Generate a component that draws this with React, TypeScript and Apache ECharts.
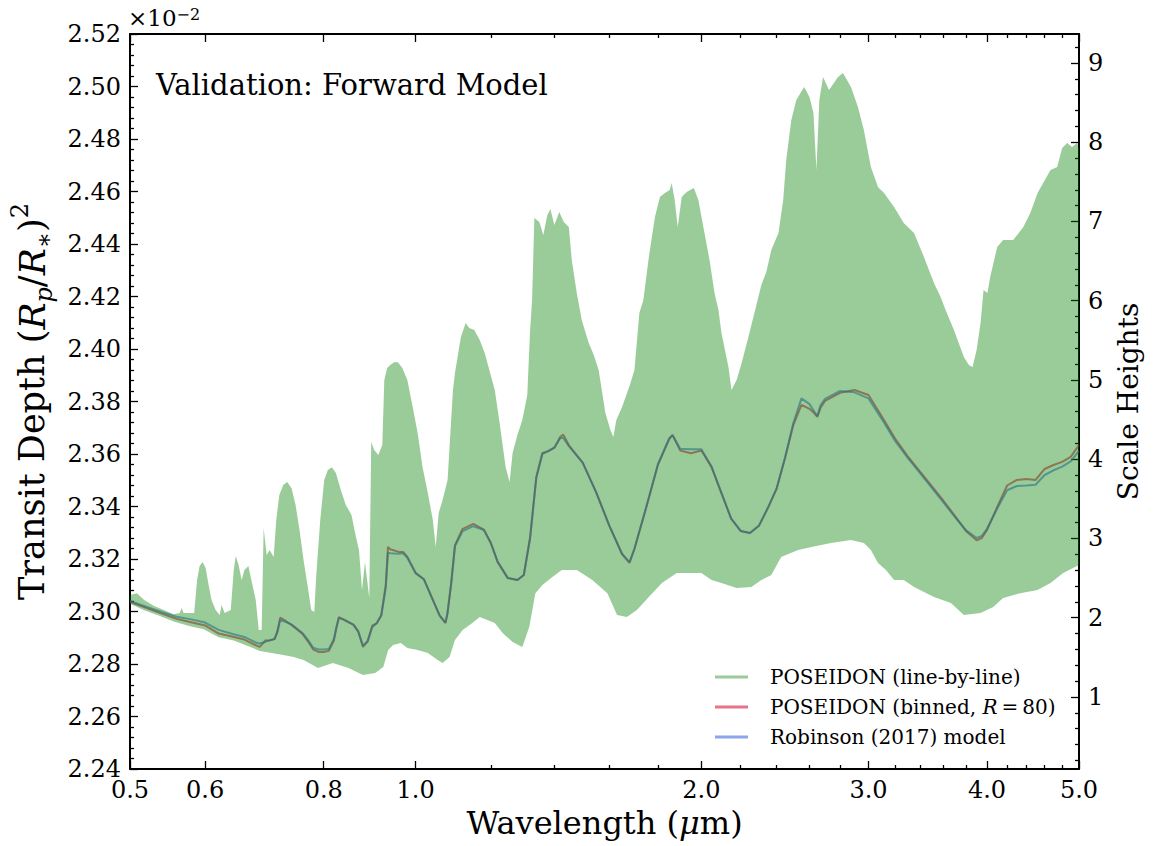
import React, { useEffect, useRef } from "react";
import * as echarts from "echarts";

// ---------- data ----------
const WL_BIN = [
  0.5, 0.52, 0.54, 0.56, 0.58, 0.6, 0.62, 0.64, 0.66, 0.68, 0.685, 0.695, 0.7, 0.71, 0.715, 0.72, 0.73, 0.74,
  0.76, 0.77, 0.78, 0.79, 0.8, 0.81, 0.82, 0.825, 0.83, 0.84, 0.86, 0.87, 0.88, 0.89, 0.9, 0.91, 0.92, 0.93,
  0.935, 0.94, 0.96, 0.97, 0.98, 1.0, 1.02, 1.04, 1.06, 1.075, 1.08, 1.09, 1.1, 1.12, 1.15, 1.18, 1.2, 1.22,
  1.25, 1.28, 1.3, 1.32, 1.34, 1.36, 1.38, 1.4, 1.42, 1.43, 1.45, 1.5, 1.55, 1.6, 1.65, 1.68, 1.7, 1.75, 1.8,
  1.85, 1.865, 1.9, 1.95, 2.0, 2.05, 2.1, 2.15, 2.2, 2.25, 2.3, 2.35, 2.4, 2.45, 2.5, 2.55, 2.6, 2.63, 2.65,
  2.67, 2.7, 2.8, 2.9, 3.0, 3.1, 3.2, 3.3, 3.4, 3.5, 3.6, 3.7, 3.8, 3.9, 3.95, 4.0, 4.1, 4.2, 4.3, 4.4, 4.5,
  4.6, 4.7, 4.8, 4.9, 5.0,
];
const RED_DEPTH = [
  2.3036, 2.3014, 2.2992, 2.2972, 2.2959, 2.2947, 2.2916, 2.2905, 2.2893, 2.287, 2.2865, 2.2891, 2.2888, 2.2895,
  2.2926, 2.2977, 2.2963, 2.2949, 2.2914, 2.2886, 2.2855, 2.2846, 2.2846, 2.285, 2.2889, 2.2937, 2.2979, 2.2968,
  2.2949, 2.2922, 2.2865, 2.2888, 2.2946, 2.2956, 2.2987, 2.3101, 2.3246, 2.3237, 2.3227, 2.3227, 2.3208, 2.3147,
  2.3123, 2.3053, 2.2984, 2.2956, 2.299, 2.3109, 2.3253, 2.3314, 2.3334, 2.3312, 2.3262, 2.3189, 2.3128, 2.312,
  2.3139, 2.328, 2.3512, 2.3604, 2.3611, 2.3623, 2.3665, 2.3674, 2.3634, 2.3566, 2.3453, 2.3326, 2.3219, 2.3185,
  2.3238, 2.3398, 2.356, 2.3657, 2.3672, 2.3613, 2.3603, 2.3613, 2.355, 2.3451, 2.3354, 2.3307, 2.3299, 2.3327,
  2.3394, 2.3467, 2.3585, 2.371, 2.3787, 2.3772, 2.3756, 2.3741, 2.3775, 2.3802, 2.3833, 2.3844, 2.3825, 2.3742,
  2.3659, 2.3591, 2.3533, 2.3477, 2.3421, 2.3364, 2.3307, 2.3271, 2.328, 2.3311, 2.3398, 2.348, 2.3501, 2.3505,
  2.3501, 2.3543, 2.3558, 2.357, 2.3589, 2.3634,
];
const BLUE_DEPTH = [
  2.304, 2.3018, 2.2998, 2.298, 2.297, 2.2958, 2.293, 2.2915, 2.2903, 2.288, 2.2878, 2.2885, 2.289, 2.2895,
  2.292, 2.2968, 2.296, 2.295, 2.2918, 2.2892, 2.2862, 2.2855, 2.2855, 2.2857, 2.2895, 2.294, 2.2975, 2.297,
  2.295, 2.2925, 2.287, 2.2885, 2.294, 2.2955, 2.2985, 2.309, 2.3225, 2.3222, 2.322, 2.3222, 2.3205, 2.3145,
  2.3123, 2.3053, 2.2984, 2.2958, 2.2992, 2.3105, 2.3248, 2.3305, 2.3325, 2.331, 2.326, 2.3189, 2.3128, 2.312,
  2.3139, 2.3282, 2.351, 2.36, 2.3612, 2.3625, 2.366, 2.3662, 2.363, 2.3566, 2.3453, 2.3326, 2.3219, 2.3188,
  2.3238, 2.3398, 2.356, 2.366, 2.3672, 2.362, 2.3618, 2.3618, 2.3552, 2.3451, 2.3354, 2.3307, 2.3299, 2.3327,
  2.3394, 2.3467, 2.3585, 2.3718, 2.3812, 2.379, 2.3762, 2.3745, 2.3785, 2.381, 2.384, 2.3835, 2.3812, 2.3732,
  2.365, 2.3585, 2.3527, 2.347, 2.3415, 2.336, 2.331, 2.328, 2.3288, 2.3315, 2.3392, 2.3462, 2.3478, 2.348,
  2.3483, 2.352, 2.3538, 2.3552, 2.3572, 2.3612,
];

// line-by-line envelope (upper and lower edges of the dense spectrum)
const LBL_UPPER_WL = [
  0.5, 0.5085, 0.5175, 0.5301, 0.5426, 0.5559, 0.5641, 0.5668, 0.5695, 0.5842, 0.5884, 0.592, 0.5964, 0.6007,
  0.6051, 0.6094, 0.6155, 0.6215, 0.6245, 0.629, 0.6385, 0.6431, 0.6462, 0.6508, 0.6555, 0.66, 0.6664, 0.6712,
  0.6784, 0.6833, 0.6882, 0.6915, 0.6966, 0.7017, 0.7085, 0.713, 0.7183, 0.7252, 0.7322, 0.74, 0.7472, 0.7545,
  0.7618, 0.7691, 0.7762, 0.7819, 0.7857, 0.7933, 0.801, 0.8081, 0.816, 0.824, 0.8339, 0.8441, 0.8558, 0.8642,
  0.8715, 0.8779, 0.8843, 0.8935, 0.8978, 0.9043, 0.9133, 0.9222, 0.9267, 0.9332, 0.94, 0.9491, 0.9577, 0.9682,
  0.98, 0.9928, 1.0048, 1.0169, 1.0299, 1.0425, 1.0498, 1.0574, 1.0675, 1.0805, 1.0947, 1.1, 1.1159, 1.129,
  1.1389, 1.1528, 1.1681, 1.1823, 1.2116, 1.2259, 1.244, 1.256, 1.2651, 1.28, 1.2953, 1.311, 1.32, 1.3264,
  1.3337, 1.35, 1.363, 1.3763, 1.3865, 1.4, 1.4169, 1.4325, 1.45, 1.4605, 1.4783, 1.4964, 1.5217, 1.5406,
  1.5589, 1.5845, 1.6039, 1.6155, 1.6272, 1.65, 1.6815, 1.7002, 1.7207, 1.7375, 1.7606, 1.787, 1.8087, 1.8306,
  1.8522, 1.8611, 1.8747, 1.8885, 1.9069, 1.9298, 1.9641, 1.9855, 2.0097, 2.0401, 2.0649, 2.0848, 2.1, 2.136,
  2.1515, 2.1787, 2.2053, 2.2419, 2.2747, 2.3133, 2.3415, 2.3699, 2.4116, 2.4394, 2.4573, 2.4879, 2.5181,
  2.5666, 2.6, 2.6252, 2.644, 2.6628, 2.687, 2.7261, 2.7865, 2.82, 2.8754, 2.9243, 2.9667, 3.0174, 3.07,
  3.1155, 3.1923, 3.2681, 3.3507, 3.4329, 3.5169, 3.5739, 3.6174, 3.6911, 3.7817, 3.8275, 3.8623, 3.9, 3.9377,
  3.9663, 4.0039, 4.0307, 4.1, 4.1594, 4.2627, 4.3682, 4.4425, 4.5218, 4.5834, 4.6661, 4.742, 4.8, 4.8582,
  4.9167, 4.9758, 5.0,
];
const LBL_UPPER = [
  2.3063, 2.307, 2.3044, 2.3021, 2.3006, 2.299, 2.2994, 2.3013, 2.2994, 2.2994, 2.312, 2.3173, 2.3189, 2.3166,
  2.3101, 2.3044, 2.3006, 2.2987, 2.3025, 2.2994, 2.3006, 2.3158, 2.3211, 2.3177, 2.312, 2.3158, 2.3173, 2.312,
  2.3044, 2.293, 2.293, 2.3318, 2.3215, 2.3234, 2.3208, 2.3349, 2.3444, 2.3482, 2.3493, 2.347, 2.3406, 2.331,
  2.3196, 2.3101, 2.3006, 2.2998, 2.3139, 2.3349, 2.3501, 2.3539, 2.355, 2.3528, 2.3463, 2.3406, 2.3368, 2.3291,
  2.3234, 2.3082, 2.3189, 2.3051, 2.3646, 2.3615, 2.3596, 2.3634, 2.3882, 2.3928, 2.3939, 2.395, 2.395, 2.3928,
  2.3882, 2.3779, 2.368, 2.355, 2.3451, 2.3349, 2.3246, 2.3375, 2.3425, 2.3501, 2.3844, 2.3909, 2.4046, 2.4099,
  2.408, 2.4072, 2.4034, 2.3985, 2.3844, 2.3718, 2.355, 2.3493, 2.3604, 2.3672, 2.373, 2.3825, 2.4072, 2.4187,
  2.4499, 2.4484, 2.4434, 2.451, 2.4533, 2.4472, 2.4522, 2.4484, 2.4465, 2.4339, 2.4213, 2.411, 2.4023, 2.3977,
  2.392, 2.3756, 2.3691, 2.3665, 2.373, 2.3779, 2.3863, 2.392, 2.4137, 2.4187, 2.435, 2.4503, 2.4579, 2.4594,
  2.4606, 2.4632, 2.4568, 2.4465, 2.4579, 2.4598, 2.4613, 2.4568, 2.4465, 2.4339, 2.4213, 2.4149, 2.4061, 2.3931,
  2.3844, 2.3882, 2.3947, 2.4046, 2.4137, 2.4244, 2.4293, 2.4377, 2.4442, 2.4568, 2.472, 2.4872, 2.4949,
  2.4998, 2.496, 2.4899, 2.4682, 2.4949, 2.5036, 2.4987, 2.5036, 2.5051, 2.4998, 2.4922, 2.4834, 2.4693, 2.4617,
  2.4594, 2.4541, 2.448, 2.4442, 2.435, 2.4251, 2.4198, 2.4149, 2.4072, 2.397, 2.3939, 2.3931, 2.3996, 2.4099,
  2.4225, 2.4213, 2.4274, 2.4389, 2.4415, 2.4415, 2.4465, 2.4518, 2.4594, 2.4632, 2.4682, 2.4693, 2.4766, 2.4785,
  2.477, 2.4785, 2.4766,
];
const LBL_LOWER_WL = [
  0.5, 0.5175, 0.5361, 0.5559, 0.5772, 0.5978, 0.62, 0.6431, 0.6664, 0.6849, 0.7051, 0.7252, 0.7436, 0.7618,
  0.789, 0.818, 0.8496, 0.88, 0.9065, 0.9244, 0.9355, 0.9468, 0.9646, 0.98, 1.0048, 1.0299, 1.0549, 1.0675,
  1.0857, 1.1, 1.1208, 1.1472, 1.1681, 1.2116, 1.2349, 1.2651, 1.2953, 1.3173, 1.337, 1.36, 1.3933, 1.4255,
  1.4783, 1.535, 1.5923, 1.63, 1.6692, 1.7103, 1.7606, 1.8175, 1.8839, 1.9547, 2.0, 2.05, 2.1, 2.1787, 2.2577,
  2.3133, 2.3699, 2.4275, 2.5296, 2.6126, 2.7392, 2.8754, 2.9667, 3.0174, 3.07, 3.13, 3.1923, 3.2681, 3.3507,
  3.5169, 3.6641, 3.7817, 3.9377, 4.0602, 4.1594, 4.3353, 4.5218, 4.6661, 4.8116, 5.0,
];
const LBL_LOWER = [
  2.303, 2.3005, 2.2985, 2.2962, 2.2945, 2.2932, 2.2902, 2.289, 2.2868, 2.285, 2.2842, 2.2834, 2.2827, 2.2815,
  2.2785, 2.2804, 2.2785, 2.2758, 2.2766, 2.2789, 2.2853, 2.2872, 2.288, 2.2861, 2.2853, 2.2842, 2.2815, 2.2804,
  2.2827, 2.2891, 2.293, 2.2956, 2.2979, 2.2956, 2.2918, 2.2884, 2.2865, 2.2941, 2.307, 2.3101, 2.3131, 2.3158,
  2.3158, 2.312, 2.307, 2.2987, 2.2979, 2.3006, 2.3055, 2.3109, 2.3147, 2.3147, 2.3147, 2.312, 2.3109, 2.309, 2.3093,
  2.312, 2.3139, 2.3208, 2.3234, 2.3246, 2.3261, 2.3272, 2.3261, 2.3234, 2.3185, 2.3158, 2.312, 2.312, 2.3093,
  2.3055, 2.3032, 2.2987, 2.2994, 2.3017, 2.3051, 2.307, 2.3082, 2.3109, 2.3147, 2.3177,
];

// axes
const X_MIN = 0.5;
const X_MAX = 5.0;
const X_MAJOR_TICKS = [0.5, 0.6, 0.8, 1.0, 2.0, 3.0, 4.0, 5.0];
const X_MINOR_TICKS = [1.2, 1.4, 1.6, 1.8, 2.2, 2.4, 2.6, 2.8, 3.2, 3.4, 3.6, 3.8, 4.2, 4.4, 4.6, 4.8];
const DEPTH_MIN = 2.24;
const DEPTH_MAX = 2.52;
const DEPTH_STEP = 0.02;
const SH_MIN = 0.091;
const SH_MAX = 9.366;
const SH_MAJOR_TICKS = [1, 2, 3, 4, 5, 6, 7, 8, 9];
const SH_MINOR_TICKS = [
  0.2, 0.4, 0.6, 0.8, 1.2, 1.4, 1.6, 1.8, 2.2, 2.4, 2.6, 2.8, 3.2, 3.4, 3.6, 3.8, 4.2, 4.4, 4.6, 4.8,
  5.2, 5.4, 5.6, 5.8, 6.2, 6.4, 6.6, 6.8, 7.2, 7.4, 7.6, 7.8, 8.2, 8.4, 8.6, 8.8, 9.2,
];

const NAME_LBL = "POSEIDON (line-by-line)";
const NAME_BIN = "POSEIDON (binned, R=80)";
const NAME_ROB = "Robinson (2017) model";

const FONT = "DejaVu Serif";
const GREEN = "rgba(0,128,0,0.4)";
const RED = "rgba(220,20,60,0.6)";
const BLUE = "rgba(65,105,225,0.6)";

const lg = (v: number) => Math.log10(v);

export default function App() {
  const ref = useRef<HTMLDivElement>(null);

  useEffect(() => {
    if (!ref.current) return;
    const chart = echarts.init(ref.current, undefined, { renderer: "svg" });

    const xMin = lg(X_MIN) - 1e-9;
    const xMax = lg(X_MAX) + 1e-9;
    const axisLine = { show: true, onZero: false, lineStyle: { color: "#000", width: 2 } };
    const tickStyle = { color: "#000", width: 1.3 };

    const xBase = (pos: string, major: boolean, withLine: boolean, withLabel: boolean, idxName?: boolean) => ({
      type: "value",
      position: pos,
      min: xMin,
      max: xMax,
      gridIndex: 0,
      axisLine: withLine ? axisLine : { show: false, onZero: false },
      splitLine: { show: false },
      axisTick: {
        show: true,
        inside: true,
        length: major ? 8 : 4,
        lineStyle: tickStyle,
        customValues: (major ? X_MAJOR_TICKS : X_MINOR_TICKS).map(lg),
      },
      axisLabel: withLabel
        ? {
            show: true,
            customValues: X_MAJOR_TICKS.map(lg),
            formatter: (v: number) => Math.pow(10, v).toFixed(1),
            fontFamily: FONT,
            fontSize: 24,
            color: "#000",
            margin: 9,
          }
        : { show: false },
      ...(idxName
        ? {
            name: "Wavelength ({it|μ}m)",
            nameLocation: "middle",
            nameGap: 36,
            nameTextStyle: {
              fontFamily: FONT,
              fontSize: 32,
              color: "#000",
              rich: { it: { fontFamily: FONT, fontStyle: "italic", fontSize: 32, color: "#000" } },
            },
          }
        : {}),
    });

    const option: any = {
      animation: false,
      grid: { left: 126, right: 74, top: 34, bottom: 77, containLabel: false },
      xAxis: [
        xBase("bottom", true, true, true, true),
        xBase("bottom", false, false, false),
        xBase("top", true, true, false),
        xBase("top", false, false, false),
      ],
      yAxis: [
        {
          type: "value",
          position: "left",
          min: DEPTH_MIN,
          max: DEPTH_MAX,
          interval: DEPTH_STEP,
          axisLine,
          splitLine: { show: false },
          axisTick: { show: true, inside: true, length: 8, lineStyle: tickStyle },
          minorTick: { show: true, splitNumber: 5, length: 4, lineStyle: tickStyle },
          axisLabel: {
            formatter: (v: number) => v.toFixed(2),
            fontFamily: FONT,
            fontSize: 24,
            color: "#000",
            margin: 9,
          },
          name: "Transit Depth ({it|R}{sub|p}/{it|R}{sub|∗}){sup|2}",
          nameLocation: "middle",
          nameRotate: 90,
          nameGap: 74,
          nameTextStyle: {
            fontFamily: FONT,
            fontSize: 35,
            color: "#000",
            lineHeight: 48,
            rich: {
              it: { fontFamily: FONT, fontStyle: "italic", fontSize: 36, color: "#000", lineHeight: 48 },
              sub: { fontFamily: FONT, fontStyle: "italic", fontSize: 24, color: "#000", verticalAlign: "bottom", lineHeight: 23 },
              sup: { fontFamily: FONT, fontSize: 24, color: "#000", verticalAlign: "top", lineHeight: 23 },
            },
          },
        },
        {
          type: "value",
          position: "right",
          min: SH_MIN,
          max: SH_MAX,
          axisLine,
          splitLine: { show: false },
          axisTick: { show: true, inside: true, length: 8, lineStyle: tickStyle, customValues: SH_MAJOR_TICKS },
          axisLabel: {
            customValues: SH_MAJOR_TICKS,
            formatter: (v: number) => String(Math.round(v)),
            fontFamily: FONT,
            fontSize: 24,
            color: "#000",
            margin: 9,
          },
          name: "Scale Heights",
          nameLocation: "middle",
          nameRotate: 90,
          nameGap: 34,
          nameTextStyle: { fontFamily: FONT, fontSize: 28, color: "#000" },
        },
        {
          type: "value",
          position: "right",
          min: SH_MIN,
          max: SH_MAX,
          axisLine: { show: false, onZero: false },
          splitLine: { show: false },
          axisTick: { show: true, inside: true, length: 4, lineStyle: tickStyle, customValues: SH_MINOR_TICKS },
          axisLabel: { show: false },
        },
      ],
      legend: {
        orient: "vertical",
        left: 715,
        top: 667,
        padding: 0,
        itemWidth: 33,
        itemHeight: 3,
        itemGap: 10,
        icon: "rect",
        selectedMode: false,
        textStyle: {
          fontFamily: FONT,
          fontSize: 20,
          color: "#000",
          padding: [0, 0, 0, 17],
          rich: {
            it: { fontFamily: FONT, fontStyle: "italic", fontSize: 20, color: "#000" },
          },
        },
        formatter: (name: string) => (name === NAME_BIN ? "POSEIDON (binned, {it|R}\u2009=\u200980)" : name),
        data: [
          { name: NAME_LBL, itemStyle: { color: GREEN } },
          { name: NAME_BIN, itemStyle: { color: RED } },
          { name: NAME_ROB, itemStyle: { color: BLUE } },
        ],
      },
      graphic: [
        {
          type: "text",
          left: 156,
          top: 70,
          style: { text: "Validation: Forward Model", fontFamily: FONT, fontSize: 29, fill: "#000" },
        },
        {
          type: "text",
          left: 128,
          top: 6,
          style: {
            text: "×10{sup|−2}",
            fontFamily: FONT,
            fontSize: 23,
            fill: "#000",
            rich: { sup: { fontFamily: FONT, fontSize: 16, fill: "#000", verticalAlign: "top" } },
          },
        },
      ],
      series: [
        {
          name: NAME_BIN,
          type: "line",
          xAxisIndex: 0,
          yAxisIndex: 0,
          showSymbol: false,
          symbol: "none",
          itemStyle: { color: RED },
          lineStyle: { color: "#dc143c", opacity: 0.6, width: 2 },
          data: WL_BIN.map((w, i) => [lg(w), RED_DEPTH[i]]),
          z: 2,
        },
        {
          name: NAME_ROB,
          type: "line",
          xAxisIndex: 0,
          yAxisIndex: 0,
          showSymbol: false,
          symbol: "none",
          itemStyle: { color: BLUE },
          lineStyle: { color: "#4169e1", opacity: 0.6, width: 2 },
          data: WL_BIN.map((w, i) => [lg(w), BLUE_DEPTH[i]]),
          z: 3,
        },
        {
          name: NAME_LBL,
          type: "custom",
          xAxisIndex: 0,
          yAxisIndex: 0,
          clip: true,
          itemStyle: { color: GREEN },
          encode: { x: 0, y: 1 },
          data: [[lg(LBL_UPPER_WL[0]), LBL_UPPER[0]]],
          z: 4,
          renderItem: (_params: any, api: any) => {
            const pts: number[][] = [];
            for (let i = 0; i < LBL_UPPER_WL.length; i++) pts.push(api.coord([lg(LBL_UPPER_WL[i]), LBL_UPPER[i]]));
            for (let i = LBL_LOWER_WL.length - 1; i >= 0; i--) pts.push(api.coord([lg(LBL_LOWER_WL[i]), LBL_LOWER[i]]));
            return { type: "polygon", shape: { points: pts }, style: { fill: GREEN, stroke: null } };
          },
        },
      ],
    };

    chart.setOption(option);
    return () => chart.dispose();
  }, []);

  return (
    <div
      ref={ref}
      style={{ position: "absolute", left: 0, top: 0, width: 1153, height: 846, background: "#fff" }}
    />
  );
}
